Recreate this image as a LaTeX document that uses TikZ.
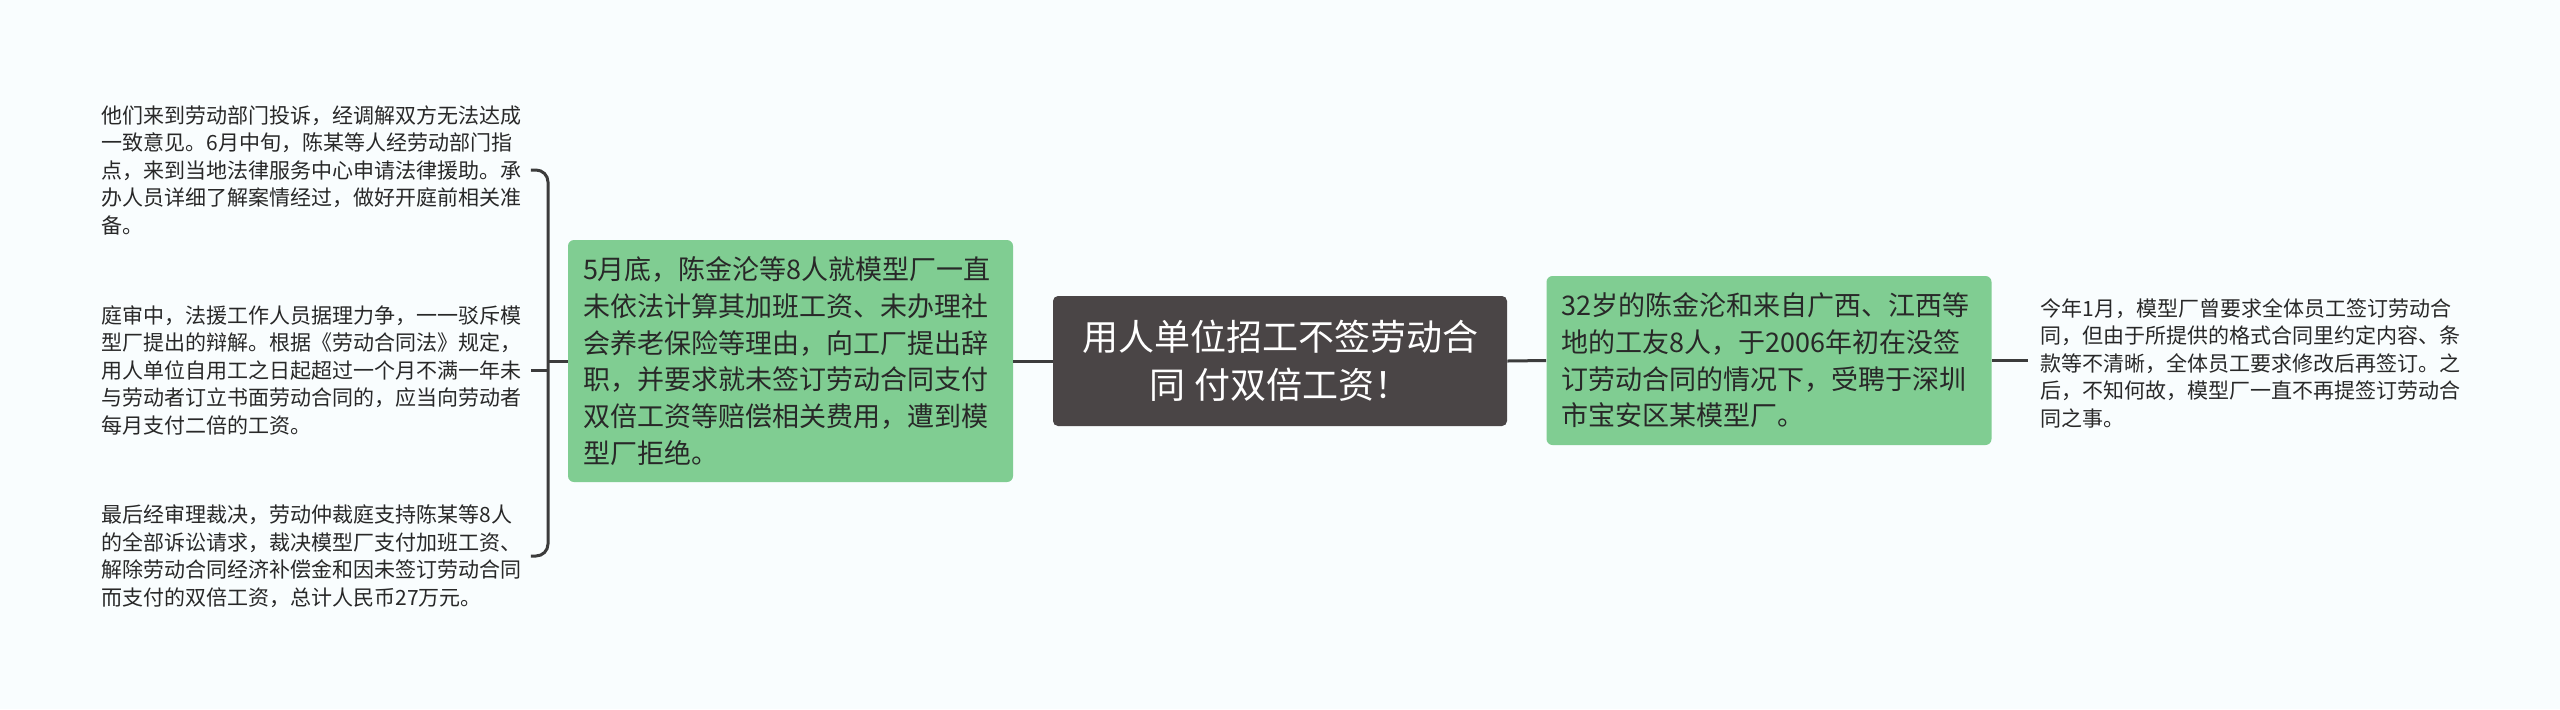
\documentclass[tikz,border=0pt]{standalone}
\usepackage{fontspec}
\setmainfont{Noto Sans CJK SC}
\definecolor{bg}{RGB}{249,253,254}
\definecolor{darkbox}{RGB}{74,69,70}
\definecolor{mmgreen}{RGB}{128,205,146}
\definecolor{linec}{RGB}{60,60,60}
\definecolor{txt}{RGB}{40,40,40}
\tikzset{
  conn/.style={draw=linec, line width=1.5pt},
  centerbox/.style={fill=darkbox, rounded corners=2.5pt, text=white, align=center,
    minimum width=227pt, minimum height=65pt, inner sep=0pt,
    font=\fontsize{18pt}{24pt}\selectfont},
  greenbox/.style={fill=mmgreen, rounded corners=3pt, text=txt, align=left,
    text width=207.5pt, inner xsep=7.5pt, inner ysep=0pt,
    font=\fontsize{13.5pt}{18.35pt}\selectfont},
  leaf/.style={text=txt, align=left, text width=214.5pt, inner xsep=0pt, inner ysep=0pt,
    font=\fontsize{10.5pt}{13.75pt}\selectfont},
  rleaf/.style={leaf, inner xsep=6pt}
}
\begin{document}
\begin{tikzpicture}[x=0.5pt, y=-0.5pt]
\fill[bg] (0,0) rectangle (2560,709);
\useasboundingbox (0,0) rectangle (2560,709);

\node[centerbox] (c) at (1280,361) {用人单位招工不签劳动合\\同 付双倍工资！};

\node[greenbox, minimum height=121pt] (lbox) at (790.5,361) {5月底，陈金沦等8人就模型厂一直\\未依法计算其加班工资、未办理社\\会养老保险等理由，向工厂提出辞\\职，并要求就未签订劳动合同支付\\双倍工资等赔偿相关费用，遭到模\\型厂拒绝。};

\node[greenbox, minimum height=84.5pt] (rbox) at (1769,360.5) {32岁的陈金沦和来自广西、江西等\\地的工友8人，于2006年初在没签\\订劳动合同的情况下，受聘于深圳\\市宝安区某模型厂。};

\node[leaf, anchor=west] (t1) at (101,170) {他们来到劳动部门投诉，经调解双方无法达成\\一致意见。6月中旬，陈某等人经劳动部门指\\点，来到当地法律服务中心申请法律援助。承\\办人员详细了解案情经过，做好开庭前相关准\\备。};

\node[leaf, anchor=west] (t2) at (101,370) {庭审中，法援工作人员据理力争，一一驳斥模\\型厂提出的辩解。根据《劳动合同法》规定，\\用人单位自用工之日起超过一个月不满一年未\\与劳动者订立书面劳动合同的，应当向劳动者\\每月支付二倍的工资。};

\node[leaf, anchor=west] (t3) at (101,556) {最后经审理裁决，劳动仲裁庭支持陈某等8人\\的全部诉讼请求，裁决模型厂支付加班工资、\\解除劳动合同经济补偿金和因未签订劳动合同\\而支付的双倍工资，总计人民币27万元。};

\node[rleaf, anchor=west] (r1) at (2028,363) {今年1月，模型厂曾要求全体员工签订劳动合\\同，但由于所提供的格式合同里约定内容、条\\款等不清晰，全体员工要求修改后再签订。之\\后，不知何故，模型厂一直不再提签订劳动合\\同之事。};

\coordinate (brk) at (548,361);

\draw[conn] (c.west) -- (lbox.east);
\draw[conn] (c.east) -- (rbox.west);
\draw[conn] (rbox.east) -- (rbox.east -| r1.west);
\draw[conn] (lbox.west) -- (brk);
\draw[conn, rounded corners=6pt] (t1.east) -- (t1.east -| brk) -- (t3.east -| brk) -- (t3.east);
\draw[conn] (t2.east) -- (t2.east -| brk);
\end{tikzpicture}
\end{document}
